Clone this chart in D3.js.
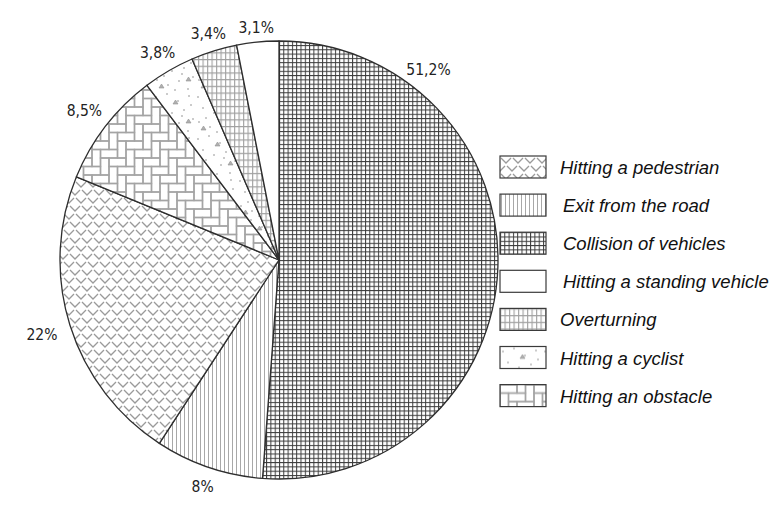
<!DOCTYPE html>
<html>
<head>
<meta charset="utf-8">
<script src="https://cdn.jsdelivr.net/npm/d3@7"></script>
<style>
  html, body { margin: 0; padding: 0; background: #fff; }
  svg { display: block; }
</style>
</head>
<body>
<svg id="chart" width="779" height="507"></svg>
<script>
// Accident types (legend order) and their shares in percent
const categories = [
  "Hitting a pedestrian",
  "Exit from the road",
  "Collision of vehicles",
  "Hitting a standing vehicle",
  "Overturning",
  "Hitting a cyclist",
  "Hitting an obstacle"
];
const values = [22, 8, 51.2, 3.1, 3.4, 3.8, 8.5];
const valueLabels = ["22%", "8%", "51,2%", "3,1%", "3,4%", "3,8%", "8,5%"];
// Order of the slices clockwise from 12 o'clock
const sliceOrder = [
  "Collision of vehicles",
  "Exit from the road",
  "Hitting a pedestrian",
  "Hitting an obstacle",
  "Hitting a cyclist",
  "Overturning",
  "Hitting a standing vehicle"
];

const svg = d3.select("#chart");
const defs = svg.append("defs");
const cx = 279, cy = 260, R = 219;

// ---------- hatch patterns ----------
function pattern(id, w, h) {
  return defs.append("pattern").attr("id", id)
    .attr("patternUnits", "userSpaceOnUse")
    .attr("width", w).attr("height", h);
}
function bg(p, w, h) {
  p.append("rect").attr("width", w).attr("height", h).attr("fill", "#fff");
}

// pedestrian: rows of small chevrons
(function () {
  const w = 12, h = 16, p = pattern("pat-ped", w, h);
  bg(p, w, h);
  const vs = [[1, 2], [7, 10], [-5, 10]];
  vs.forEach(([x, y]) => {
    p.append("path").attr("d", `M${x},${y} L${x + 5},${y + 5} L${x + 10},${y}`)
      .attr("fill", "none").attr("stroke", "#9a9a9a").attr("stroke-width", 1.3);
  });
})();

// exit from the road: vertical lines
(function () {
  const w = 4, h = 4, p = pattern("pat-exit", w, h);
  bg(p, w, h);
  p.append("line").attr("x1", 1.5).attr("x2", 1.5).attr("y1", 0).attr("y2", h)
    .attr("stroke", "#a8a8a8").attr("stroke-width", 1);
})();

// collision of vehicles: dense dark grid
(function () {
  const w = 4.3, h = 4.3, p = pattern("pat-coll", w, h);
  bg(p, w, h);
  p.append("line").attr("x1", 0.5).attr("x2", 0.5).attr("y1", 0).attr("y2", h)
    .attr("stroke", "#3a3a3a").attr("stroke-width", 1);
  p.append("line").attr("x1", 0).attr("x2", w).attr("y1", 0.5).attr("y2", 0.5)
    .attr("stroke", "#3a3a3a").attr("stroke-width", 1);
})();

// overturning: light grid, tall cells
(function () {
  const w = 4.5, h = 6.7, p = pattern("pat-over", w, h);
  bg(p, w, h);
  p.append("line").attr("x1", 0.6).attr("x2", 0.6).attr("y1", 0).attr("y2", h)
    .attr("stroke", "#a0a0a0").attr("stroke-width", 1.1);
  p.append("line").attr("x1", 0).attr("x2", w).attr("y1", 0.6).attr("y2", 0.6)
    .attr("stroke", "#a0a0a0").attr("stroke-width", 1.2);
})();

// cyclist: sparse stipple with tiny triangles
(function () {
  const w = 42, h = 42, p = pattern("pat-cyc", w, h);
  bg(p, w, h);
  const dots = [[3, 5], [14, 2], [25, 9], [36, 4], [8, 16], [19, 21], [31, 18], [40, 27],
                [4, 30], [15, 35], [26, 31], [35, 39], [11, 26], [22, 40], [38, 13], [29, 24]];
  dots.forEach(([x, y]) => p.append("circle").attr("cx", x).attr("cy", y).attr("r", 0.8).attr("fill", "#8a8a8a"));
  const tris = [[20, 12], [6, 38], [33, 31]];
  tris.forEach(([x, y]) => p.append("path").attr("d", `M${x},${y} l2.5,-4 l2.5,4 z`)
    .attr("fill", "#b0b0b0").attr("stroke", "#909090").attr("stroke-width", 0.6));
})();

// obstacle: herringbone brickwork
(function () {
  const u = 8.5, w = 4 * u, h = 4 * u, p = pattern("pat-obs", w, h);
  bg(p, w, h);
  const g = p.append("g").attr("fill", "none").attr("stroke", "#a4a4a4").attr("stroke-width", 1.4);
  for (let a = -6; a <= 6; a++) {
    for (let b = -4; b <= 4; b++) {
      const ox = (a + 2 * b) * u, oy = (a - 2 * b) * u;
      if (ox < -3 * u || ox > 5 * u || oy < -4 * u || oy > 5 * u) continue;
      g.append("rect").attr("x", ox).attr("y", oy).attr("width", 2 * u).attr("height", u);
      g.append("rect").attr("x", ox).attr("y", oy + u).attr("width", u).attr("height", 2 * u);
    }
  }
})();

const fills = {
  "Hitting a pedestrian": "url(#pat-ped)",
  "Exit from the road": "url(#pat-exit)",
  "Collision of vehicles": "url(#pat-coll)",
  "Hitting a standing vehicle": "#ffffff",
  "Overturning": "url(#pat-over)",
  "Hitting a cyclist": "url(#pat-cyc)",
  "Hitting an obstacle": "url(#pat-obs)"
};

// ---------- pie ----------
const rows = sliceOrder.map(name => {
  const i = categories.indexOf(name);
  return { name, value: values[i], label: valueLabels[i] };
});

const pie = d3.pie().value(d => d.value).sort(null);
const arcs = pie(rows);
const arc = d3.arc().innerRadius(0).outerRadius(R);

const gPie = svg.append("g").attr("transform", `translate(${cx},${cy})`);
gPie.selectAll("path.slice").data(arcs).join("path")
  .attr("class", "slice")
  .attr("d", arc)
  .attr("fill", d => fills[d.data.name])
  .attr("stroke", "#2e2e2e")
  .attr("stroke-width", 1.3)
  .attr("stroke-linejoin", "round");

// value labels just outside the rim
const labelAngleOverride = { "Collision of vehicles": 38 * Math.PI / 180 };
gPie.selectAll("text.val").data(arcs).join("text")
  .attr("class", "val")
  .each(function (d) {
    const a = labelAngleOverride[d.data.name] ?? (d.startAngle + d.endAngle) / 2;
    const s = Math.sin(a), c = Math.cos(a);
    const rr = R + 14 + 16 * Math.abs(s);
    d3.select(this)
      .attr("x", rr * s)
      .attr("y", -rr * c + 6);
  })
  .attr("text-anchor", "middle")
  .attr("font-family", "'DejaVu Sans Condensed', 'Liberation Sans Narrow', sans-serif")
  .attr("font-size", 15.5)
  .attr("fill", "#222")
  .text(d => d.data.label);

// ---------- legend ----------
const legend = svg.append("g").attr("transform", "translate(500,156)");
const item = legend.selectAll("g.item").data(categories).join("g")
  .attr("class", "item")
  .attr("transform", (d, i) => `translate(0,${i * 38.1})`);
item.append("rect")
  .attr("width", 46).attr("height", 22)
  .attr("fill", d => fills[d])
  .attr("stroke", "#3a3a3a").attr("stroke-width", 1.2);
item.append("text")
  .attr("x", d => (d === "Exit from the road" || d === "Collision of vehicles" || d === "Hitting a standing vehicle") ? 63 : 60)
  .attr("y", 18)
  .attr("font-family", "'Liberation Sans', Arial, sans-serif")
  .attr("font-style", "italic")
  .attr("font-size", 18.5)
  .attr("fill", "#111")
  .text(d => d);
</script>
</body>
</html>
